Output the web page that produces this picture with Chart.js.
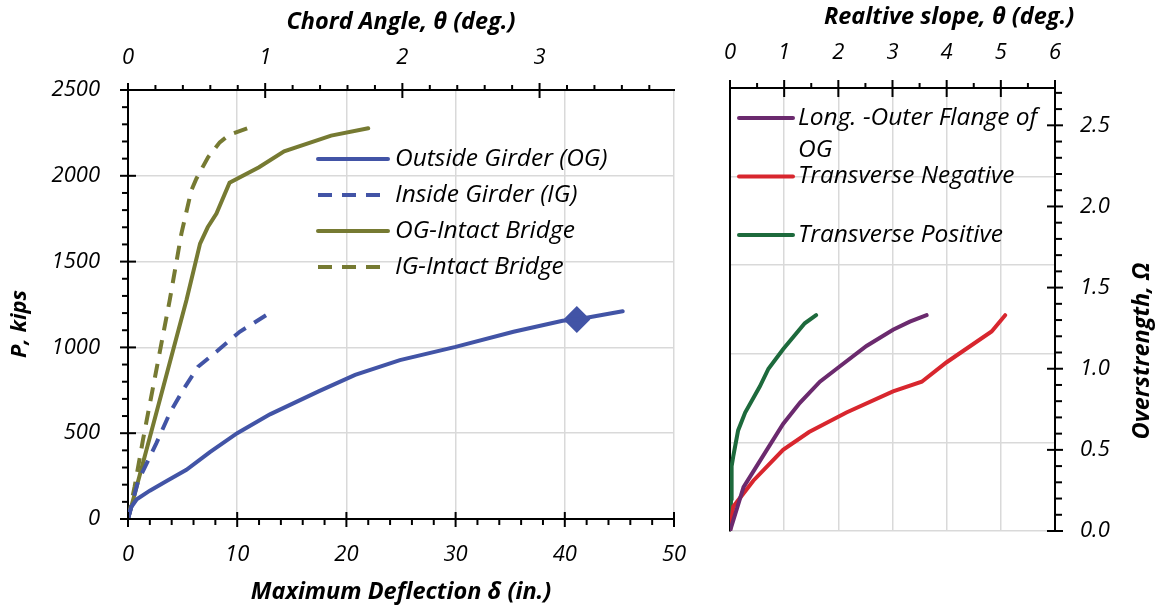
<!DOCTYPE html>
<html>
<head>
<meta charset="utf-8">
<script src="https://cdn.jsdelivr.net/npm/chart.js@4/dist/chart.umd.min.js"></script>
<style>
  html, body { margin: 0; padding: 0; background: #fff; overflow: hidden; }
  #left { position: absolute; left: 0; top: 0; width: 700px; height: 612px; }
  #right { position: absolute; left: 700px; top: 0; width: 458px; height: 612px; }
</style>
</head>
<body>
<div id="left"><canvas id="loadChart"></canvas></div>
<div id="right"><canvas id="slopeChart"></canvas></div>
<script>
// Left panel: load vs. maximum deflection
const ogDefl = [0, 0.3, 0.8, 2.0, 3.5, 5.35, 7.5, 10, 13, 17.5, 20.8, 24.9, 30, 35.3, 39.8, 41.1, 45.3];
const ogLoad = [0, 70, 115, 165, 220, 287, 390, 500, 610, 745, 840, 926, 1003, 1091, 1155, 1163, 1211];
const igDefl = [0, 0.92, 2.6, 3.82, 5.04, 6.41, 8.09, 10.23, 13.28];
const igLoad = [0, 219, 442, 616, 752, 887, 975, 1091, 1213];
const ogIntactDefl = [0, 5.35, 6.6, 7.3, 8.1, 9.3, 12.0, 14.3, 18.6, 22.0];
const ogIntactLoad = [0, 1275, 1605, 1700, 1780, 1960, 2050, 2143, 2234, 2277];
const igIntactDefl = [0, 0.61, 1.37, 3.06, 3.82, 4.89, 5.8, 6.26, 7.33, 8.4, 9.3, 11.0];
const igIntactLoad = [0, 190, 461, 1023, 1275, 1663, 1915, 1983, 2108, 2195, 2240, 2279];
const markDefl = [41.1];
const markLoad = [1163];
const leftLabels = ['Outside Girder (OG)', 'Inside Girder (IG)', 'OG-Intact Bridge', 'IG-Intact Bridge'];

// Right panel: overstrength vs. relative slope
const longSlope = [0, 0.25, 0.68, 0.98, 1.29, 1.66, 1.97, 2.52, 3.01, 3.32, 3.63];
const longOmega = [0, 0.27, 0.5, 0.66, 0.79, 0.92, 1.0, 1.14, 1.24, 1.29, 1.33];
const negSlope = [0, 0.06, 0.43, 0.98, 1.46, 2.15, 3.01, 3.54, 4.0, 4.83, 5.08];
const negOmega = [0, 0.15, 0.31, 0.50, 0.61, 0.73, 0.86, 0.92, 1.04, 1.23, 1.33];
const posSlope = [0, 0.02, 0.03, 0.06, 0.15, 0.28, 0.55, 0.71, 0.98, 1.38, 1.59];
const posOmega = [0, 0.2, 0.40, 0.46, 0.62, 0.73, 0.89, 1.0, 1.12, 1.28, 1.33];
const rightLabels = [['Long. -Outer Flange of', 'OG'], ['Transverse Negative'], ['Transverse Positive']];

const FAMILY = '"Open Sans", sans-serif';
const BLUE = '#4254a6', OLIVE = '#767a32', PURPLE = '#6b2a6e', RED = '#d8262e', GREEN = '#1d6a3c';
const GRID = '#d9d9d9';

Chart.defaults.font.family = FAMILY;
Chart.defaults.color = '#000';

function pts(xs, ys) {
  return xs.map((x, i) => ({ x: x, y: ys[i] }));
}

function line(label, xs, ys, color, dash, extra) {
  return Object.assign({
    label: label,
    data: pts(xs, ys),
    showLine: true,
    borderColor: color,
    backgroundColor: color,
    borderWidth: 4,
    borderDash: dash || [],
    borderCapStyle: dash ? 'butt' : 'round',
    pointRadius: 0,
    tension: 0
  }, extra || {});
}

// major ticks cross the axis line, minor ticks only stick out
const axisTicks = {
  id: 'axisTicks',
  afterDraw(chart, args, opts) {
    const c = chart.ctx;
    c.save();
    c.strokeStyle = '#000';
    c.lineWidth = 2;
    (opts.list || []).forEach(s => {
      const sc = chart.scales[s.id];
      const horiz = sc.isHorizontal();
      let at, dir;
      if (horiz) {
        at = sc.position === 'top' ? sc.bottom : sc.top;
        dir = sc.position === 'top' ? -1 : 1;
      } else {
        at = sc.position === 'left' ? sc.right : sc.left;
        dir = sc.position === 'left' ? -1 : 1;
      }
      const n = Math.floor((sc.max - sc.min) / s.minor + 1e-6);
      for (let i = 0; i <= n; i++) {
        const v = sc.min + i * s.minor;
        const p = sc.getPixelForValue(v);
        const major = Math.abs(v / s.major - Math.round(v / s.major)) < 1e-6;
        const a = at + dir * (major ? s.out : s.minorOut);
        const b = major ? at - dir * s.in : at;
        c.beginPath();
        if (horiz) { c.moveTo(p, a); c.lineTo(p, b); }
        else { c.moveTo(a, p); c.lineTo(b, p); }
        c.stroke();
      }
    });
    c.restore();
  }
};

// legend drawn inside the plot area
const insideLegend = {
  id: 'insideLegend',
  afterDraw(chart, args, opts) {
    const c = chart.ctx;
    const area = chart.chartArea;
    const x0 = area.left + opts.x;
    let y = area.top + opts.y;
    c.save();
    c.font = 'italic ' + opts.size + 'px ' + FAMILY;
    c.textBaseline = 'middle';
    c.fillStyle = '#000';
    opts.labels.forEach((lab, i) => {
      const ds = chart.data.datasets[i];
      c.beginPath();
      c.strokeStyle = ds.borderColor;
      c.lineWidth = ds.borderWidth;
      c.lineCap = ds.borderDash.length ? 'butt' : 'round';
      c.setLineDash(ds.borderDash);
      c.moveTo(x0, y);
      c.lineTo(x0 + opts.sample, y);
      c.stroke();
      c.setLineDash([]);
      const lines = Array.isArray(lab) ? lab : [lab];
      lines.forEach((t, k) => c.fillText(t, x0 + opts.sample + opts.gap, y + k * opts.lineGap));
      y += opts.row;
    });
    c.restore();
  }
};

// titles that need a free position or bottom-to-top rotation
const freeTitles = {
  id: 'freeTitles',
  afterDraw(chart, args, opts) {
    const c = chart.ctx;
    const area = chart.chartArea;
    c.save();
    c.fillStyle = '#000';
    c.textAlign = 'center';
    c.textBaseline = 'middle';
    (opts.list || []).forEach(t => {
      c.font = 'italic bold ' + t.size + 'px ' + FAMILY;
      c.save();
      c.translate(t.x(area), t.y(area));
      c.rotate(t.rot || 0);
      c.fillText(t.text, 0, 0);
      c.restore();
    });
    c.restore();
  }
};

const tickFont = { size: 22, style: 'italic' };
const titleFont = { size: 23.5, style: 'italic', weight: 'bold' };
const hideAt = vals => ctx => (ctx.tick && vals.includes(ctx.tick.value)) ? 'rgba(0,0,0,0)' : GRID;
const plain = v => String(v);
// fixed axis box size; drop the label overhang so the plot keeps its width
const fixH = h => s => { s.height = h; s.paddingLeft = 0; s.paddingRight = 0; };

new Chart(document.getElementById('loadChart'), {
  type: 'scatter',
  data: {
    datasets: [
      line(leftLabels[0], ogDefl, ogLoad, BLUE),
      line(leftLabels[1], igDefl, igLoad, BLUE, [14, 10]),
      line(leftLabels[2], ogIntactDefl, ogIntactLoad, OLIVE),
      line(leftLabels[3], igIntactDefl, igIntactLoad, OLIVE, [14, 10]),
      {
        label: 'marker',
        data: pts(markDefl, markLoad),
        pointStyle: 'rectRot',
        pointRadius: 13.5,
        backgroundColor: BLUE,
        borderColor: BLUE,
        borderWidth: 0,
        showLine: false
      }
    ]
  },
  options: {
    responsive: true,
    maintainAspectRatio: false,
    animation: false,
    layout: { padding: { right: 26, top: 0, bottom: 0, left: 0 } },
    plugins: {
      legend: { display: false },
      tooltip: { enabled: false },
      axisTicks: {
        list: [
          { id: 'x', major: 10, minor: 2, out: 8, in: 7, minorOut: 6 },
          { id: 'x2', major: 1, minor: 0.2, out: 7, in: 8, minorOut: 5 },
          { id: 'y', major: 500, minor: 100, out: 8, in: 8, minorOut: 6 }
        ]
      },
      insideLegend: { labels: leftLabels, x: 190, y: 69, sample: 70, gap: 7, row: 36, size: 24.5, lineGap: 0 },
      freeTitles: {
        list: [
          { text: 'P, kips', size: 22, rot: -Math.PI / 2, x: a => a.left - 108, y: a => a.top + 234 }
        ]
      }
    },
    scales: {
      x: {
        type: 'linear', position: 'bottom', min: 0, max: 50,
        afterFit: fixH(93),
        ticks: { stepSize: 10, font: tickFont, padding: 22.5, color: '#000', callback: plain },
        grid: { color: hideAt([0]), lineWidth: 1.5, drawTicks: false },
        border: { color: '#000', width: 2 },
        title: { display: true, text: 'Maximum Deflection δ (in.)', font: titleFont, color: '#000', padding: { top: 0, bottom: 6 } }
      },
      x2: {
        type: 'linear', position: 'top', min: 0, max: 3.98,
        afterFit: fixH(90),
        ticks: { stepSize: 1, includeBounds: false, font: tickFont, padding: 19, color: '#000', callback: plain },
        grid: { display: false, drawTicks: false },
        border: { color: '#000', width: 2 },
        title: { display: true, text: 'Chord Angle, θ (deg.)', font: titleFont, color: '#000', padding: { top: 8, bottom: 0 } }
      },
      y: {
        type: 'linear', position: 'left', min: 0, max: 2500,
        afterFit: s => { s.width = 128; },
        ticks: { stepSize: 500, font: tickFont, padding: 28, color: '#000', callback: plain },
        grid: { color: hideAt([0, 2500]), lineWidth: 1.5, drawTicks: false },
        border: { color: '#000', width: 2 }
      }
    }
  },
  plugins: [axisTicks, insideLegend, freeTitles]
});

new Chart(document.getElementById('slopeChart'), {
  type: 'scatter',
  data: {
    datasets: [
      line(rightLabels[0].join(' '), longSlope, longOmega, PURPLE, null, { xAxisID: 'x', yAxisID: 'y' }),
      line(rightLabels[1][0], negSlope, negOmega, RED, null, { xAxisID: 'x', yAxisID: 'y' }),
      line(rightLabels[2][0], posSlope, posOmega, GREEN, null, { xAxisID: 'x', yAxisID: 'y' })
    ]
  },
  options: {
    responsive: true,
    maintainAspectRatio: false,
    animation: false,
    layout: { padding: { bottom: 81, top: 0, left: 0, right: 0 } },
    plugins: {
      legend: { display: false },
      tooltip: { enabled: false },
      axisTicks: {
        list: [
          { id: 'x', major: 1, minor: 0.5, out: 8, in: 9, minorOut: 5 },
          { id: 'y', major: 0.5, minor: 0.1, out: 8, in: 8, minorOut: 7 }
        ]
      },
      insideLegend: { labels: rightLabels, x: 9, y: 30, sample: 54, gap: 5, row: 58.5, size: 24.5, lineGap: 32 },
      freeTitles: {
        list: [
          { text: 'Realtive slope, θ (deg.)', size: 23.5, x: a => a.left + 0.674 * (a.right - a.left), y: a => 17 },
          { text: 'Overstrength, Ω', size: 23.5, rot: -Math.PI / 2, x: a => a.right + 87, y: a => a.top + 263 }
        ]
      }
    },
    scales: {
      x: {
        type: 'linear', position: 'top', min: 0, max: 6,
        afterFit: fixH(88),
        ticks: { stepSize: 1, font: tickFont, padding: 22, color: '#000', callback: plain },
        grid: { color: hideAt([0, 6]), lineWidth: 1.5, drawTicks: false },
        border: { color: '#000', width: 2 }
      },
      yg: {
        type: 'linear', position: 'left', min: 0, max: 5,
        afterFit: s => { s.width = 30; },
        ticks: { stepSize: 1, display: false },
        grid: { color: hideAt([5]), lineWidth: 1.5, drawTicks: false },
        border: { color: '#000', width: 2 }
      },
      y: {
        type: 'linear', position: 'right', min: 0, max: 2.73,
        afterFit: s => { s.width = 103; },
        ticks: { stepSize: 0.5, includeBounds: false, font: tickFont, padding: 25, color: '#000',
                 callback: v => v.toFixed(1) },
        grid: { display: false, drawTicks: false },
        border: { color: '#000', width: 2 }
      }
    }
  },
  plugins: [axisTicks, insideLegend, freeTitles]
});
</script>
</body>
</html>
